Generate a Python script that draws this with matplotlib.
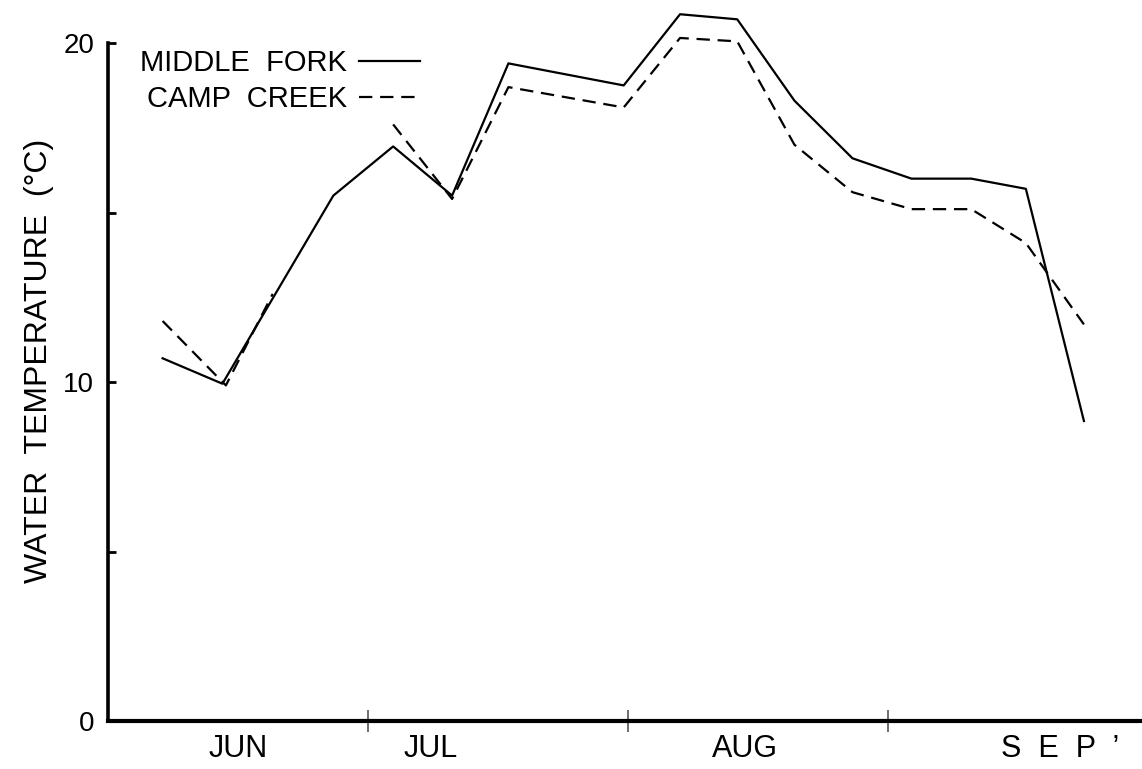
import matplotlib
matplotlib.use('Agg')
import matplotlib.pyplot as plt
import numpy as np

plt.rcParams['font.family'] = ['Liberation Sans', 'DejaVu Sans']

# days counted from 1 June (30-day months on the axis)
days = [6.3, 13.2, 26.0, 32.9, 39.7, 46.2, 59.5, 66.0, 72.6, 79.2, 85.9, 92.7, 99.6, 105.9, 112.6]
middle_fork = [10.7, 9.95, 15.5, 16.95, 15.5, 19.4, 18.75, 20.85, 20.7, 18.3, 16.6, 16.0, 16.0, 15.7, 8.85]

# Camp Creek trace is broken in late June (not drawn between the two pieces)
cc_days = [6.3, 13.6, 19.0, 26.0, 32.9, 39.7, 46.2, 59.5, 66.0, 72.6, 79.2, 85.9, 92.7, 99.6, 105.9, 112.6]
camp_creek = [11.8, 9.9, 12.6, np.nan, 17.6, 15.4, 18.7, 18.1, 20.15, 20.05, 17.0, 15.6, 15.1, 15.1, 14.1, 11.7]

month_edges = [30, 60, 90]
month_names = ['JUN', 'JUL', 'AUG', 'S  E  P  \u2019']
month_label_pos = [15, 37.2, 73.5, 109.8]

fig = plt.figure(figsize=(11.42, 7.69), dpi=100)
ax = fig.add_axes([108 / 1142, 48 / 769, 1 - 108 / 1142, 721 / 769])

ax.plot(days, middle_fork, color='black', lw=1.6, label='MIDDLE  FORK')
ax.plot(cc_days, camp_creek, color='black', lw=1.6, ls=(0, (6, 3.5)), label='CAMP  CREEK')

ax.set_xlim(0, 119.3)
ax.set_ylim(0, 21.27)

for s in ['top', 'right']:
    ax.spines[s].set_visible(False)
ax.spines['left'].set_linewidth(2.6)
ax.spines['bottom'].set_linewidth(3.0)
ax.spines['left'].set_bounds(0, 20)

ax.set_yticks([0, 5, 10, 15, 20])
ax.set_yticklabels(['0', '', '10', '', '20'])
ax.tick_params(axis='y', direction='in', length=6, width=2, pad=10, labelsize=20)

ax.set_xticks(month_edges)
ax.set_xticklabels([])
ax.tick_params(axis='x', direction='inout', length=16, width=1.2, color='#555555')

for pos, name in zip(month_label_pos, month_names):
    ax.text(pos, -0.018, name, transform=ax.get_xaxis_transform(),
            ha='center', va='top', fontsize=22)

ax.set_ylabel('WATER  TEMPERATURE  (\u00b0C)', fontsize=23)
ax.yaxis.set_label_coords(-0.052, 0.5)

ax.legend(loc='upper left', bbox_to_anchor=(0.031, 0.932), markerfirst=False,
          frameon=False, handlelength=2.1, handletextpad=0.4, labelspacing=0.28,
          borderpad=0, borderaxespad=0, fontsize=21)

fig.savefig('out.png', dpi=100)
